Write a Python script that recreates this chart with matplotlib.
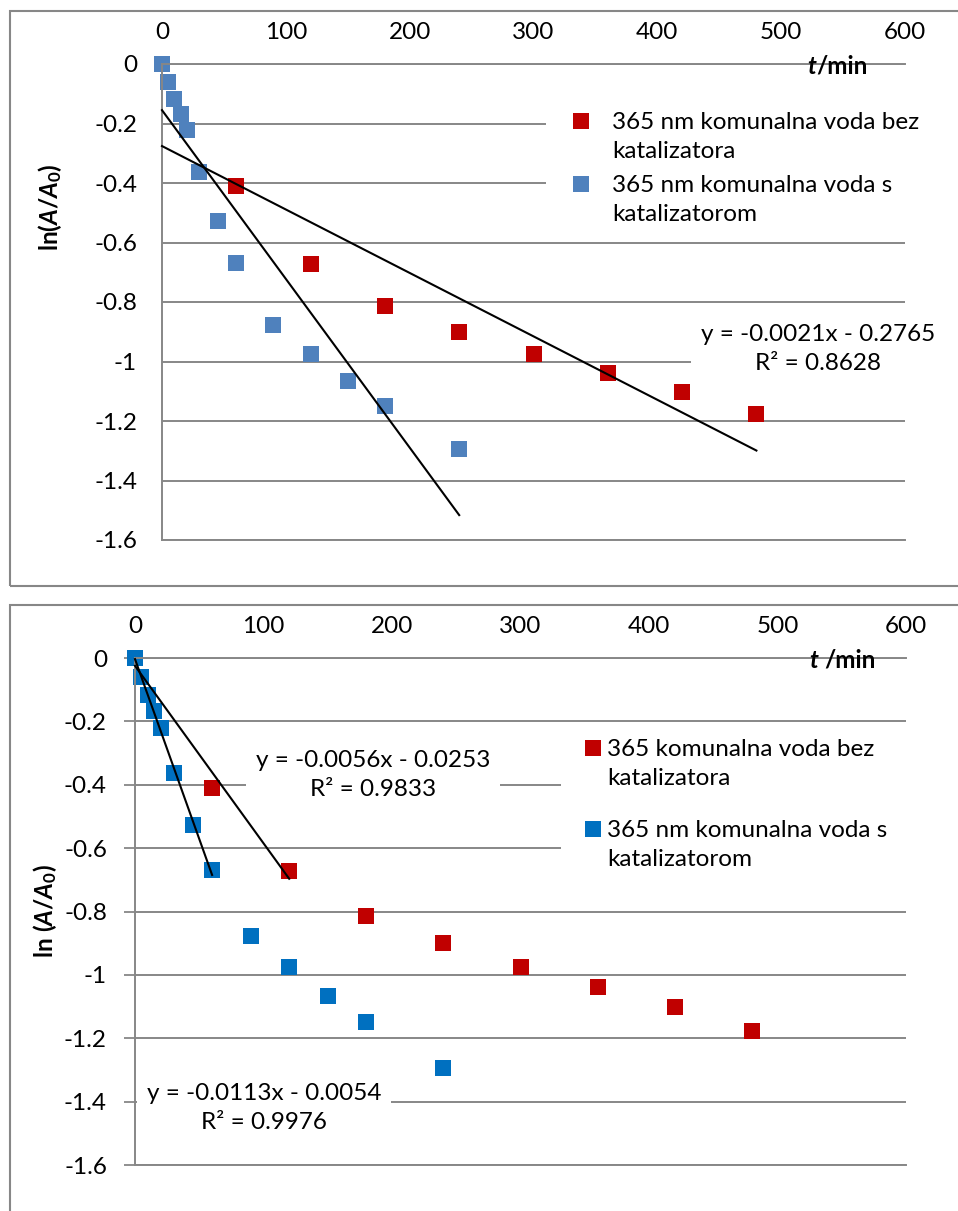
import numpy as np
import matplotlib
matplotlib.use('Agg')
import matplotlib.pyplot as plt
from matplotlib.patches import Rectangle
from matplotlib.lines import Line2D
from matplotlib.ticker import FuncFormatter

plt.rcParams['font.family'] = ['Lato', 'DejaVu Sans']
plt.rcParams['axes.unicode_minus'] = False
plt.rcParams['mathtext.fontset'] = 'custom'
plt.rcParams['mathtext.rm'] = 'Lato:bold'
plt.rcParams['mathtext.it'] = 'Lato:bold:italic'
plt.rcParams['mathtext.bf'] = 'Lato:bold'

red_t = [0, 60, 120, 180, 240, 300, 360, 420, 480]
red_y = [0, -0.41, -0.672, -0.814, -0.90, -0.975, -1.039, -1.101, -1.177]
blue_t = [0, 5, 10, 15, 20, 30, 45, 60, 90, 120, 150, 180, 240]
blue_y = [0, -0.06, -0.118, -0.168, -0.222, -0.363, -0.528, -0.669, -0.877,
          -0.975, -1.066, -1.15, -1.294]

x_ticks = [0, 100, 200, 300, 400, 500, 600]
y_ticks = [0, -0.2, -0.4, -0.6, -0.8, -1.0, -1.2, -1.4, -1.6]

labels_top = ['365 nm komunalna voda bez\nkatalizatora',
              '365 nm komunalna voda s\nkatalizatorom']
labels_bottom = ['365 komunalna voda bez\nkatalizatora',
                 '365 nm komunalna voda s\nkatalizatorom']

eq_top_red = 'y = -0.0021x - 0.2765\nR² = 0.8628'
eq_bottom_red = 'y = -0.0056x - 0.0253\nR² = 0.9833'
eq_bottom_blue = 'y = -0.0113x - 0.0054\nR² = 0.9976'

# number of points used for each trendline in the lower chart
n_fit_red_bottom = 3
n_fit_blue_bottom = 8

RED = '#C00000'
BLUE_TOP = '#4F81BD'
BLUE_BOTTOM = '#0070C0'
GRID = '#878787'
FS = 17.5

W, H = 958, 1211
fig = plt.figure(figsize=(W / 100, H / 100), dpi=100)


def fx(x):
    return x / W


def fy(y):
    return 1 - y / H


def px_axes(left, right, top, bottom):
    return fig.add_axes([fx(left), fy(bottom), (right - left) / W, (bottom - top) / H])


def setup(ax, tick_len):
    ax.set_xlim(0, 600)
    ax.set_ylim(-1.6, 0)
    ax.set_xticks(x_ticks)
    ax.set_yticks(y_ticks)
    ax.yaxis.set_major_formatter(FuncFormatter(lambda v, _: f'{v:g}'))
    ax.xaxis.set_ticks_position('top')
    ax.tick_params(axis='x', length=0, pad=15, labelsize=FS)
    ax.tick_params(axis='y', length=tick_len, width=1.3, color=GRID,
                   pad=18 - tick_len * 0.72, labelsize=FS)
    ax.set_axisbelow(True)
    ax.grid(axis='y', color=GRID, lw=1.4)
    for s in ['left', 'top', 'bottom']:
        ax.spines[s].set_color(GRID)
        ax.spines[s].set_linewidth(1.4)
    ax.spines['right'].set_visible(False)
    ax.patch.set_alpha(0)


def mask(ax, left, top, right, bottom):
    ax.add_patch(Rectangle((fx(left), fy(bottom)), (right - left) / W, (bottom - top) / H,
                           transform=fig.transFigure, fc='white', ec='none',
                           zorder=1.5, clip_on=False))


def legend_entry(ax, mx, my, tx, text, color):
    # marker sits on the first line, the text block hangs below it
    ax.add_line(Line2D([fx(mx)], [fy(my)], transform=fig.transFigure, marker='s',
                       ms=11, mew=0, color=color, ls='none', clip_on=False, zorder=4))
    ax.text(fx(tx), fy(my + 16), text, transform=fig.transFigure, fontsize=FS,
            va='center', ha='left', linespacing=1.42, zorder=4)


def fit_line(ax, t, y):
    k, n = np.polyfit(t, y, 1)
    xs = np.array([min(t), max(t)])
    ax.plot(xs, k * xs + n, color='black', lw=1.5, zorder=3, clip_on=False)


def equation(ax, x, y, text):
    ax.text(fx(x), fy(y), text, transform=fig.transFigure, fontsize=FS,
            ha='center', va='center', linespacing=1.42, zorder=2,
            bbox=dict(boxstyle='square,pad=0.4', fc='white', ec='none'))


# outer chart frames
fig.add_artist(Rectangle((fx(10), fy(586)), (970 - 10) / W, (586 - 11) / H,
                         transform=fig.transFigure, fc='none', ec=GRID, lw=1.5))
fig.add_artist(Rectangle((fx(10), fy(1240)), (970 - 10) / W, (1240 - 605) / H,
                         transform=fig.transFigure, fc='none', ec=GRID, lw=1.5))

# ---------- top chart ----------
ax1 = px_axes(162, 905, 64, 540)
setup(ax1, 0)
ax1.plot(red_t, red_y, 's', color=RED, ms=11, mew=0, clip_on=False, zorder=2)
ax1.plot(blue_t, blue_y, 's', color=BLUE_TOP, ms=11, mew=0, clip_on=False, zorder=2.5)
fit_line(ax1, red_t, red_y)
fit_line(ax1, blue_t, blue_y)

mask(ax1, 546, 100, 958, 232)
legend_entry(ax1, 581, 121, 612, labels_top[0], RED)
legend_entry(ax1, 581, 184, 612, labels_top[1], BLUE_TOP)
equation(ax1, 818, 349, eq_top_red)

t1 = fig.text(fx(807), fy(66), 't', fontsize=FS, fontweight='bold', style='italic',
              ha='left', va='center')
fig.canvas.draw()
ax1.annotate('/min', xy=(1, 0), xycoords=t1, fontsize=FS, fontweight='bold',
             ha='left', va='bottom', annotation_clip=False)
fig.text(fx(50), fy(207), r'$\mathrm{ln(}A\mathrm{/}A_{\mathit{0}}\mathrm{)}$', fontsize=FS,
         rotation=90, ha='center', va='center')

# ---------- bottom chart ----------
ax2 = px_axes(135, 906, 658, 1165)
setup(ax2, 8)
ax2.plot(red_t, red_y, 's', color=RED, ms=11, mew=0, clip_on=False, zorder=2)
ax2.plot(blue_t, blue_y, 's', color=BLUE_BOTTOM, ms=11, mew=0, clip_on=False, zorder=2.5)
fit_line(ax2, red_t[:n_fit_red_bottom], red_y[:n_fit_red_bottom])
fit_line(ax2, blue_t[:n_fit_blue_bottom], blue_y[:n_fit_blue_bottom])

mask(ax2, 561, 735, 958, 895)
legend_entry(ax2, 593, 748, 607, labels_bottom[0], RED)
legend_entry(ax2, 593, 829, 607, labels_bottom[1], BLUE_BOTTOM)
equation(ax2, 373, 775, eq_bottom_red)
equation(ax2, 264, 1108, eq_bottom_blue)

t2 = fig.text(fx(810), fy(660), 't ', fontsize=FS, fontweight='bold', style='italic',
              ha='left', va='center')
fig.canvas.draw()
ax2.annotate('/min', xy=(1, 0), xycoords=t2, fontsize=FS, fontweight='bold',
             ha='left', va='bottom', annotation_clip=False)
fig.text(fx(45), fy(911), r'$\mathrm{ln\ (}A\mathrm{/}A_{\mathrm{0}}\mathrm{)}$', fontsize=FS,
         rotation=90, ha='center', va='center')

fig.savefig('out.png', dpi=100)
